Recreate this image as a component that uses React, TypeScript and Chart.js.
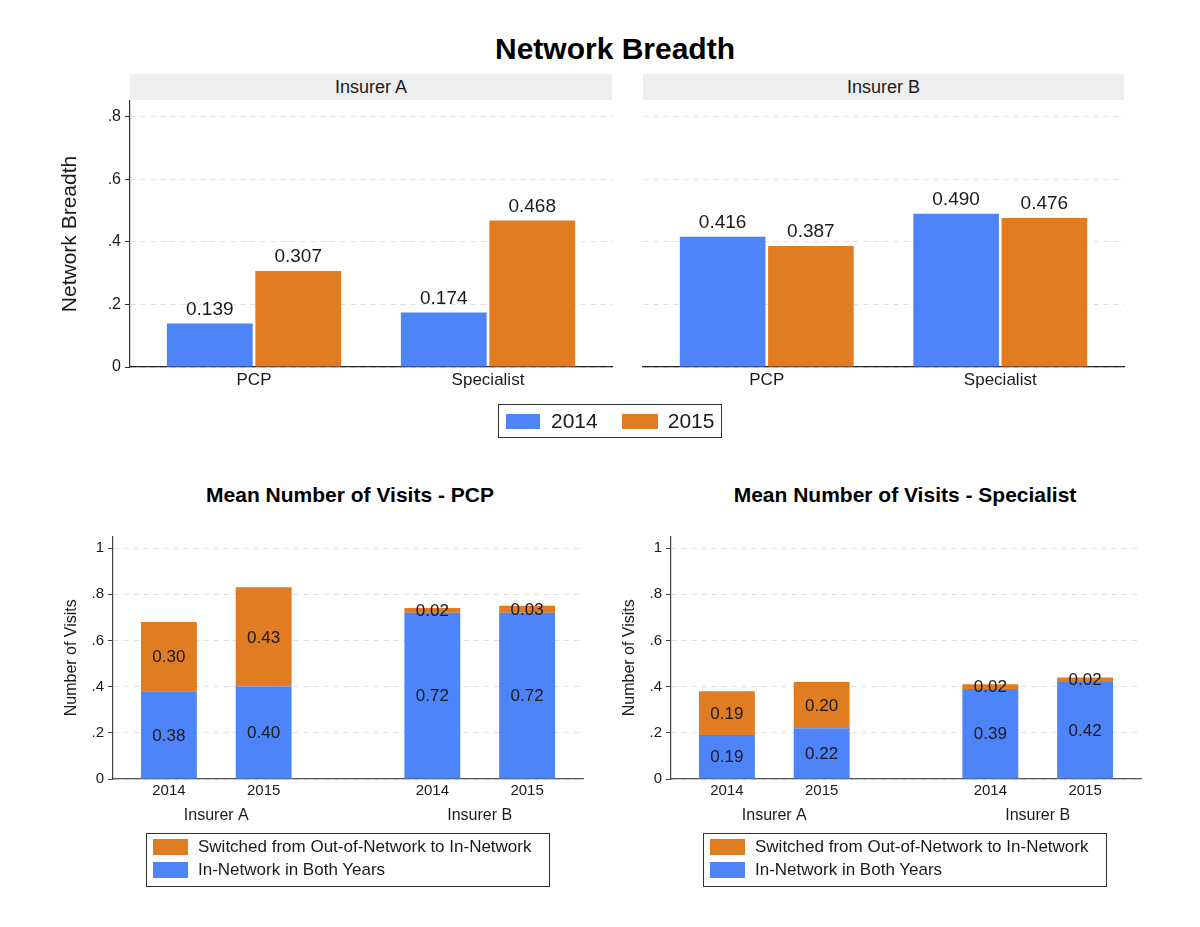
import { useEffect, useRef } from "react";
import { Chart, registerables } from "chart.js";

Chart.register(...registerables);

const FONT = "'Liberation Sans', Arial, Helvetica, sans-serif";
const BLUE = "#4d84fa";
const ORANGE = "#e07c22";
const GRID = "#e2e2e2";
const INK = "#1a1a1a";

// ---- top panels: network breadth ----
const breadthCategories = ["PCP", "Specialist"];
const breadthYears = ["2014", "2015"];
const insurers = ["Insurer A", "Insurer B"];
const insurerA2014 = [0.139, 0.174];
const insurerA2015 = [0.307, 0.468];
const insurerB2014 = [0.416, 0.49];
const insurerB2015 = [0.387, 0.476];
const breadthTicks = [0, 0.2, 0.4, 0.6, 0.8];

// ---- bottom panels: mean number of visits ----
const visitYears = ["2014", "2015", "2014", "2015"];
const visitGroups = [0, 0, 1, 1]; // index into insurers
const pcpInNetwork = [0.38, 0.4, 0.72, 0.72];
const pcpSwitched = [0.3, 0.43, 0.02, 0.03];
const specInNetwork = [0.19, 0.22, 0.39, 0.42];
const specSwitched = [0.19, 0.2, 0.02, 0.02];
const visitTicks = [0, 0.2, 0.4, 0.6, 0.8, 1];
const seriesLabels = ["Switched from Out-of-Network to In-Network", "In-Network in Both Years"];

// stata-ish spacing: outer margins and the gap between insurer groups, in slot units
const CATEGORY_EDGE = 0.53;
const GROUP_GAP = 0.78;
const EDGE = 0.59;
const breadthSlots = breadthCategories.map((_, i) => i);
const slots = visitGroups.map((g, i) => g * GROUP_GAP + i);
const groupCenters = insurers.map((_, g) => {
  const s = slots.filter((_, i) => visitGroups[i] === g);
  return (s[0] + s[s.length - 1]) / 2;
});

const stataTick = (v: number | string) => {
  const r = Math.round(Number(v) * 10) / 10;
  if (r === 0 || r === 1) return String(r);
  return String(r).replace(/^0/, "");
};

// draws the numbers on the bars
const valueLabels = {
  id: "valueLabels",
  afterDatasetsDraw(chart: any, _args: any, opts: any) {
    const { ctx } = chart;
    ctx.save();
    ctx.font = opts.font;
    ctx.fillStyle = INK;
    ctx.textAlign = "center";
    chart.data.datasets.forEach((ds: any, i: number) => {
      const meta = chart.getDatasetMeta(i);
      meta.data.forEach((bar: any, j: number) => {
        const raw = ds.data[j];
        const v = typeof raw === "number" ? raw : raw.y;
        const p = bar.getProps(["x", "y", "base"], true);
        const text = v.toFixed(opts.digits);
        if (opts.position === "top") {
          ctx.textBaseline = "alphabetic";
          ctx.fillText(text, p.x, p.y - opts.gap);
        } else {
          ctx.textBaseline = "middle";
          ctx.fillText(text, p.x, (p.y + p.base) / 2 + 1);
        }
      });
    });
    ctx.restore();
  },
};

// keep the chart area exactly where the layout says, not pushed by tick label height
const noLabelPadding = (s: any) => {
  s.paddingTop = 0;
  s.paddingBottom = 0;
};

function breadthConfig(v2014: number[], v2015: number[], showAxis: boolean): any {
  return {
    type: "bar",
    data: {
      datasets: [
        { label: breadthYears[0], data: breadthSlots.map((x, i) => ({ x, y: v2014[i] })), backgroundColor: BLUE },
        { label: breadthYears[1], data: breadthSlots.map((x, i) => ({ x, y: v2015[i] })), backgroundColor: ORANGE },
      ],
    },
    plugins: [valueLabels],
    options: {
      animation: false,
      responsive: true,
      maintainAspectRatio: false,
      layout: { padding: { left: showAxis ? 0 : 11, right: 8, top: 6, bottom: 0 } },
      datasets: { bar: { categoryPercentage: 0.756, barPercentage: 0.97 } },
      plugins: {
        legend: { display: false },
        tooltip: { enabled: false },
        valueLabels: { position: "top", font: `19px ${FONT}`, digits: 3, gap: 9 },
      },
      scales: {
        x: {
          type: "linear",
          offset: false,
          bounds: "data",
          min: -CATEGORY_EDGE,
          max: breadthSlots[breadthSlots.length - 1] + CATEGORY_EDGE,
          grid: { display: false, drawTicks: false },
          border: { color: "#222", width: 1.2 },
          afterBuildTicks: (s: any) => { s.ticks = breadthSlots.map((value) => ({ value })); },
          ticks: {
            autoSkip: false,
            maxRotation: 0,
            color: INK,
            font: { family: FONT, size: 17 },
            padding: 3,
            callback: (_v: any, i: number) => breadthCategories[i],
          },
          afterFit: (s: any) => { s.height = 38; },
        },
        y: {
          min: 0,
          max: 0.85,
          bounds: "data",
          afterBuildTicks: (s: any) => { s.ticks = breadthTicks.map((value) => ({ value })); },
          ticks: { display: showAxis, color: INK, font: { family: FONT, size: 16 }, padding: 4, callback: stataTick },
          grid: { color: GRID, tickColor: "#333", tickLength: 5, drawTicks: showAxis },
          border: { display: showAxis, color: "#333", width: 1.2, dash: [6, 4] },
          title: {
            display: showAxis,
            text: "Network Breadth",
            color: INK,
            font: { family: FONT, size: 21 },
            padding: { top: 28, bottom: 0 },
          },
          afterFit: (s: any) => {
            s.width = showAxis ? 100 : 0;
            noLabelPadding(s);
          },
        },
      },
    },
  };
}

function visitsConfig(inNet: number[], switched: number[]): any {
  const min = -EDGE;
  const max = slots[slots.length - 1] + EDGE;
  return {
    type: "bar",
    data: {
      datasets: [
        { label: seriesLabels[1], xAxisID: "x", data: slots.map((x, i) => ({ x, y: inNet[i] })), backgroundColor: BLUE },
        { label: seriesLabels[0], xAxisID: "x", data: slots.map((x, i) => ({ x, y: switched[i] })), backgroundColor: ORANGE },
      ],
    },
    plugins: [valueLabels],
    options: {
      animation: false,
      responsive: true,
      maintainAspectRatio: false,
      layout: { padding: { left: 0, right: 17, top: 16.5, bottom: 0 } },
      datasets: { bar: { categoryPercentage: 1, barPercentage: 0.59 } },
      plugins: {
        legend: { display: false },
        tooltip: { enabled: false },
        valueLabels: { position: "center", font: `17px ${FONT}`, digits: 2 },
      },
      scales: {
        x: {
          type: "linear",
          axis: "x",
          position: "bottom",
          weight: 0,
          offset: false,
          bounds: "data",
          min,
          max,
          stacked: true,
          grid: { display: false, drawTicks: false },
          border: { color: "#555", width: 1.2 },
          afterBuildTicks: (s: any) => { s.ticks = slots.map((value) => ({ value })); },
          ticks: {
            autoSkip: false,
            maxRotation: 0,
            color: INK,
            font: { family: FONT, size: 15 },
            padding: 2.5,
            callback: (_v: any, i: number) => visitYears[i],
          },
          afterFit: (s: any) => { s.height = 25; },
        },
        group: {
          type: "linear",
          axis: "x",
          position: "bottom",
          weight: 1,
          offset: false,
          bounds: "data",
          min,
          max,
          grid: { display: false, drawTicks: false },
          border: { display: false },
          afterBuildTicks: (s: any) => { s.ticks = groupCenters.map((value) => ({ value })); },
          ticks: {
            autoSkip: false,
            maxRotation: 0,
            color: INK,
            font: { family: FONT, size: 16 },
            padding: 2,
            callback: (_v: any, i: number) => insurers[i],
          },
          afterFit: (s: any) => { s.height = 36; },
        },
        y: {
          stacked: true,
          min: 0,
          max: 1.05,
          bounds: "data",
          afterBuildTicks: (s: any) => { s.ticks = visitTicks.map((value) => ({ value })); },
          ticks: { color: INK, font: { family: FONT, size: 15 }, padding: 4, callback: stataTick },
          grid: { color: GRID, tickColor: "#444", tickLength: 5 },
          border: { color: "#444", width: 1.2, dash: [6, 4] },
          title: {
            display: true,
            text: "Number of Visits",
            color: INK,
            font: { family: FONT, size: 16 },
            padding: { top: 22, bottom: 0 },
          },
          afterFit: (s: any) => {
            s.width = 73;
            noLabelPadding(s);
          },
        },
      },
    },
  };
}

function ChartBox(props: { left: number; top: number; width: number; height: number; make: () => any }) {
  const { left, top, width, height, make } = props;
  const canvasRef = useRef<HTMLCanvasElement>(null);

  useEffect(() => {
    if (!canvasRef.current) return;
    const chart = new Chart(canvasRef.current, make());
    return () => chart.destroy();
  }, [make]);

  return (
    <div style={{ position: "absolute", left, top, width, height }}>
      <canvas ref={canvasRef} />
    </div>
  );
}

const makeTopA = () => breadthConfig(insurerA2014, insurerA2015, true);
const makeTopB = () => breadthConfig(insurerB2014, insurerB2015, false);
const makePcp = () => visitsConfig(pcpInNetwork, pcpSwitched);
const makeSpec = () => visitsConfig(specInNetwork, specSwitched);

function Strip({ left, width, text }: { left: number; width: number; text: string }) {
  return (
    <div
      style={{
        position: "absolute", left, top: 74, width, height: 26, background: "#eeeeee",
        textAlign: "center", lineHeight: "26px", fontSize: 18, color: INK,
      }}
    >
      {text}
    </div>
  );
}

function Swatch({ color, w, h }: { color: string; w: number; h: number }) {
  return <span style={{ display: "inline-block", width: w, height: h, background: color }} />;
}

function VisitsLegend({ left }: { left: number }) {
  const rows = [
    { color: ORANGE, text: seriesLabels[0] },
    { color: BLUE, text: seriesLabels[1] },
  ];
  return (
    <div
      style={{
        position: "absolute", left, top: 833, width: 402, height: 50, border: "1px solid #333",
        boxSizing: "content-box", paddingTop: 2,
      }}
    >
      {rows.map((r) => (
        <div key={r.text} style={{ display: "flex", alignItems: "center", height: 22.5, paddingLeft: 6 }}>
          <Swatch color={r.color} w={35} h={16} />
          <span style={{ marginLeft: 10, fontSize: 17, color: INK, lineHeight: "20px" }}>{r.text}</span>
        </div>
      ))}
    </div>
  );
}

function Title({ cx, cy, size, text }: { cx: number; cy: number; size: number; text: string }) {
  return (
    <div
      style={{
        position: "absolute", left: cx - 300, top: cy - 20, width: 600, height: 40, lineHeight: "40px",
        textAlign: "center", fontWeight: "bold", fontSize: size, color: "#000",
      }}
    >
      {text}
    </div>
  );
}

export default function App() {
  return (
    <div
      style={{
        position: "absolute", left: 0, top: 0, width: 1200, height: 927, background: "#fff",
        fontFamily: FONT, overflow: "hidden",
      }}
    >
      <Title cx={615} cy={49} size={30} text="Network Breadth" />
      <Strip left={130} width={482} text={insurers[0]} />
      <Strip left={643} width={481} text={insurers[1]} />
      <ChartBox left={30} top={95} width={590} height={310} make={makeTopA} />
      <ChartBox left={632} top={95} width={500} height={310} make={makeTopB} />

      <div
        style={{
          position: "absolute", left: 498, top: 404, width: 224, height: 34, border: "1px solid #333",
          display: "flex", alignItems: "center", paddingLeft: 7, boxSizing: "border-box",
        }}
      >
        <Swatch color={BLUE} w={34} h={15} />
        <span style={{ marginLeft: 11, fontSize: 21, color: INK }}>{breadthYears[0]}</span>
        <span style={{ marginLeft: 24, display: "inline-flex" }}>
          <Swatch color={ORANGE} w={36} h={15} />
        </span>
        <span style={{ marginLeft: 10, fontSize: 21, color: INK }}>{breadthYears[1]}</span>
      </div>

      <Title cx={350} cy={495} size={21} text="Mean Number of Visits - PCP" />
      <Title cx={905} cy={495} size={21} text="Mean Number of Visits - Specialist" />
      <ChartBox left={40} top={520} width={560} height={320} make={makePcp} />
      <ChartBox left={598} top={520} width={560} height={320} make={makeSpec} />
      <VisitsLegend left={146} />
      <VisitsLegend left={703} />
    </div>
  );
}
